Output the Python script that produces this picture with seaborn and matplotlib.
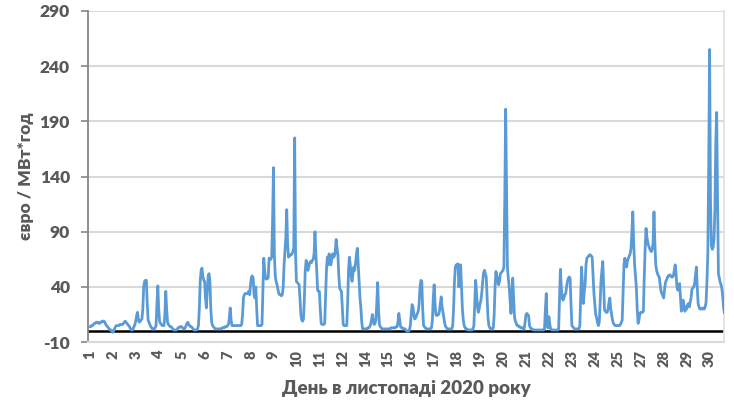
import matplotlib
matplotlib.use("Agg")
import matplotlib.pyplot as plt
import seaborn as sns
import pandas as pd
import numpy as np

# Hourly prices (EUR/MWh), November 2020, one list per day (24 hours each)
day01 = [4, 4, 5, 5, 6, 7, 7, 8, 8, 8, 7, 7, 8, 8, 9, 9, 9, 8, 6, 5, 4, 3, 2, 1]
day02 = [1, 0, -1, 0, 2, 4, 5, 5, 5, 5, 6, 6, 6, 6, 7, 8, 9, 8, 7, 6, 5, 4, 2, 1]
day03 = [1, 2, 4, 6, 9, 14, 17, 10, 8, 9, 10, 11, 20, 40, 45, 46, 46, 25, 10, 8, 6, 4, 3, 2]
day04 = [2, 2, 3, 5, 25, 41, 20, 9, 7, 6, 5, 5, 5, 15, 36, 20, 8, 6, 5, 4, 4, 3, 2, 1]
day05 = [1, 1, 1, 2, 3, 3, 4, 4, 4, 3, 2, 2, 3, 5, 7, 8, 6, 5, 4, 4, 3, 2, 1, 1]
day06 = [1, 1, 2, 5, 20, 45, 55, 57, 50, 46, 45, 30, 21, 35, 50, 52, 45, 20, 8, 5, 4, 3, 2, 2]
day07 = [2, 2, 2, 2, 2, 2, 3, 3, 3, 4, 4, 4, 5, 6, 12, 21, 10, 5, 5, 5, 5, 5, 5, 5]
day08 = [5, 5, 5, 5, 6, 15, 30, 33, 34, 34, 34, 34, 36, 33, 42, 49, 50, 48, 33, 30, 40, 20, 5, 5]
day09 = [5, 5, 5, 6, 35, 66, 55, 48, 47, 48, 48, 66, 66, 65, 67, 100, 148, 70, 50, 45, 42, 38, 34, 33]
day10 = [33, 32, 33, 40, 60, 72, 85, 110, 80, 67, 68, 69, 69, 70, 72, 76, 175, 70, 45, 44, 43, 42, 30, 15]
day11 = [10, 9, 11, 30, 55, 64, 60, 55, 58, 62, 63, 62, 64, 65, 70, 90, 70, 55, 37, 36, 36, 20, 7, 6]
day12 = [6, 6, 7, 30, 55, 67, 60, 70, 65, 60, 65, 70, 67, 68, 72, 83, 75, 69, 50, 39, 37, 36, 20, 6]
day13 = [5, 5, 5, 5, 25, 55, 67, 60, 50, 45, 52, 58, 55, 62, 70, 75, 60, 45, 30, 21, 8, 2, 2, 2]
day14 = [2, 2, 2, 3, 3, 4, 6, 10, 15, 10, 6, 7, 10, 25, 44, 20, 6, 4, 3, 2, 2, 2, 2, 2]
day15 = [2, 2, 2, 2, 2, 3, 3, 3, 3, 3, 3, 4, 4, 8, 16, 10, 4, 3, 3, 2, 2, 2, 1, 0]
day16 = [0, 0, 1, 5, 15, 24, 22, 15, 11, 12, 14, 16, 18, 25, 40, 46, 45, 20, 5, 4, 3, 2, 2, 2]
day17 = [2, 2, 2, 3, 10, 30, 42, 25, 15, 14, 15, 15, 18, 25, 31, 22, 17, 12, 7, 4, 3, 2, 2, 2]
day18 = [2, 2, 2, 5, 20, 45, 58, 60, 60, 61, 40, 50, 60, 40, 20, 10, 5, 3, 2, 2, 1, 1, 1, 1]
day19 = [1, 1, 2, 5, 25, 46, 35, 22, 17, 20, 25, 28, 35, 45, 53, 55, 52, 49, 30, 12, 5, 3, 2, 2]
day20 = [2, 3, 15, 40, 54, 50, 45, 42, 45, 52, 53, 54, 55, 58, 120, 201, 130, 58, 48, 40, 28, 16, 30, 48]
day21 = [30, 13, 9, 7, 5, 5, 4, 4, 3, 3, 3, 2, 2, 8, 15, 16, 15, 14, 5, 3, 2, 2, 1, 1]
day22 = [1, 1, 1, 1, 1, 1, 1, 1, 1, 1, 1, 2, 20, 34, 5, 3, 13, 6, 2, 1, 1, 1, 1, 1]
day23 = [1, 1, 1, 2, 30, 56, 40, 30, 28, 30, 33, 34, 40, 45, 48, 49, 48, 25, 5, 4, 3, 2, 2, 2]
day24 = [2, 2, 2, 5, 30, 58, 40, 25, 35, 43, 60, 66, 67, 68, 69, 69, 68, 67, 50, 34, 25, 15, 12, 8]
day25 = [5, 8, 25, 46, 55, 63, 40, 19, 18, 17, 17, 20, 26, 30, 20, 15, 10, 7, 6, 5, 5, 5, 5, 5]
day26 = [5, 6, 8, 10, 35, 60, 66, 60, 58, 64, 66, 68, 70, 75, 90, 108, 80, 61, 50, 40, 20, 7, 10, 16]
day27 = [17, 17, 17, 18, 50, 75, 93, 85, 80, 77, 75, 73, 72, 74, 80, 108, 80, 60, 55, 52, 50, 49, 42, 36]
day28 = [34, 32, 30, 38, 44, 46, 48, 50, 50, 51, 50, 49, 49, 50, 55, 60, 52, 40, 37, 40, 43, 30, 18, 22]
day29 = [28, 22, 18, 22, 20, 24, 25, 22, 26, 30, 38, 39, 40, 43, 50, 58, 40, 25, 22, 20, 20, 20, 21, 20]
day30 = [20, 22, 26, 45, 70, 150, 255, 120, 78, 74, 76, 83, 110, 170, 198, 120, 52, 48, 44, 42, 38, 30, 20, 16]

days = [day01, day02, day03, day04, day05, day06, day07, day08, day09, day10,
        day11, day12, day13, day14, day15, day16, day17, day18, day19, day20,
        day21, day22, day23, day24, day25, day26, day27, day28, day29, day30]

tick_labels = ["1", "2", "3", "4", "5", "6", "7", "8", "9", "10", "11", "12",
               "14", "15", "16", "17", "18", "19", "20", "21", "22", "23", "24",
               "25", "27", "28", "29", "30"]
tick_step = 26  # Excel label interval (hours)

y_ticks = [-10, 40, 90, 140, 190, 240, 290]

prices = [v for d in days for v in d]
df = pd.DataFrame({"hour": np.arange(len(prices)), "price": prices})

sns.set_theme(style="white")
plt.rcParams["font.family"] = ["Lato", "DejaVu Sans"]

fig = plt.figure(figsize=(7.34, 4.03), dpi=100)
ax = fig.add_axes([0.12, 0.151, 0.866, 0.822])

gray = "#595959"
for yv in y_ticks:
    ax.axhline(yv, color="#d9d9d9", lw=1.5, zorder=0)
ax.axhline(0, color="black", lw=1.8, zorder=1)

sns.lineplot(data=df, x="hour", y="price", ax=ax, color="#5b9bd5", lw=2.0, zorder=3)

ax.set_xlim(-2, len(prices) - 2)
ax.set_ylim(-10, 290)
ax.set_yticks(y_ticks)
ax.set_yticklabels([str(v) for v in y_ticks], fontsize=12.5, fontweight="heavy", color=gray)
ax.set_xticks([tick_step * k for k in range(len(tick_labels))])
ax.set_xticklabels(tick_labels, rotation=90, fontsize=10.5, fontweight="heavy", color=gray)

ax.tick_params(axis="y", length=5, width=1.2, color="#868686", direction="out", pad=8, left=True)
ax.tick_params(axis="x", length=0, pad=6)

ax.spines["top"].set_visible(False)
ax.spines["left"].set_color("#868686")
ax.spines["left"].set_linewidth(1.3)
ax.spines["right"].set_color("#e0e0e0")
ax.spines["bottom"].set_color("#d9d9d9")
ax.spines["bottom"].set_linewidth(1.5)

ax.set_xlabel("День в листопаді 2020 року", fontsize=13.5, fontweight="heavy", color=gray, labelpad=9)
ax.set_ylabel("євро / МВт*год", fontsize=12.5, fontweight="heavy", color=gray, labelpad=4)

fig.savefig("out.png", dpi=100)
